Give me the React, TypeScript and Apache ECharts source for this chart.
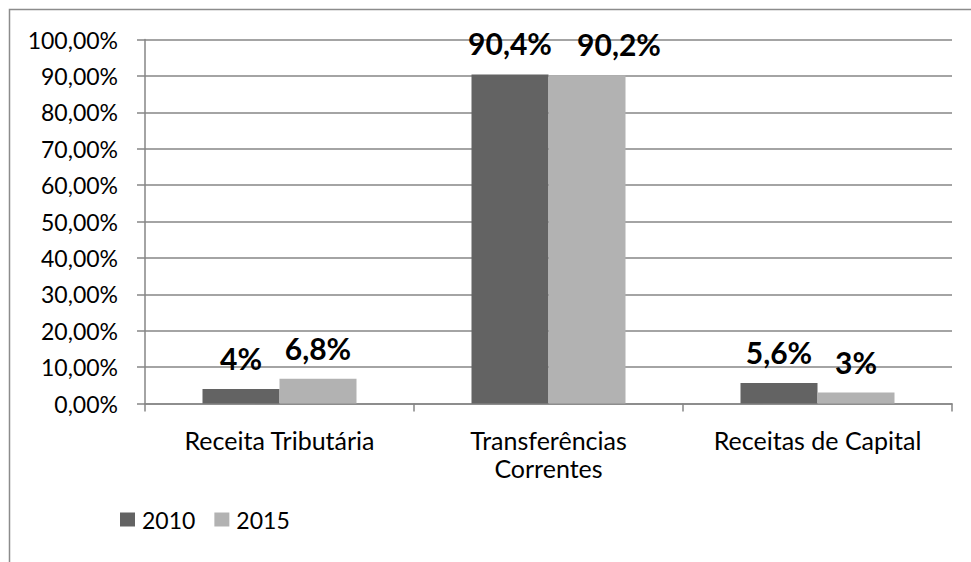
import React, { useEffect, useRef } from "react";
import * as echarts from "echarts";

const categories = ["Receita Tributária", "Transferências\nCorrentes", "Receitas de Capital"];
const seriesNames = ["2010", "2015"];
const values2010 = [4, 90.4, 5.6];
const values2015 = [6.8, 90.2, 3];
const seriesColors = ["#636363", "#b2b2b2"];
const yMin = 0;
const yMax = 100;
const yInterval = 10;

const FONT = "Lato, 'Open Sans', sans-serif";

export default function App() {
  const ref = useRef<HTMLDivElement>(null);
  useEffect(() => {
    if (!ref.current) return;
    const chart = echarts.init(ref.current, undefined, { renderer: "svg" });
    const fmt = (v: number) => String(v).replace(".", ",") + "%";
    const labelStyle = {
      show: true,
      position: "top",
      distance: 16,
      formatter: (p: any) => fmt(p.value),
      fontFamily: FONT,
      fontWeight: "bold",
      fontSize: 30,
      color: "#000",
    };
    const mkData = (data: number[], shifts: number[]) =>
      data.map((v, i) =>
        shifts[i] ? { value: v, label: { offset: [shifts[i], 0] } } : v
      );
    chart.setOption({
      animation: false,
      backgroundColor: "#fff",
      graphic: [
        {
          type: "rect",
          shape: { x: 9.5, y: 9.5, width: 1000, height: 600 },
          style: { fill: "none", stroke: "#8c8c8c", lineWidth: 1.5 },
          silent: true,
          z: -10,
        },
      ],
      grid: { left: 145, right: 19, top: 39.5, bottom: 158.5, containLabel: false },
      legend: {
        left: 120,
        top: 508,
        padding: 0,
        itemWidth: 15,
        itemHeight: 14,
        itemGap: 19,
        icon: "rect",
        data: seriesNames,
        textStyle: {
          fontFamily: FONT,
          fontSize: 23,
          lineHeight: 22,
          color: "#000",
          padding: [0, 0, 0, 2],
        },
      },
      xAxis: {
        type: "category",
        data: categories,
        axisLine: { show: true, lineStyle: { color: "#868686", width: 1.5 } },
        axisTick: { show: true, alignWithLabel: false, length: 8, lineStyle: { color: "#868686", width: 1.5 } },
        axisLabel: {
          fontFamily: FONT,
          fontSize: 25,
          lineHeight: 28,
          color: "#000",
          margin: 22,
          interval: 0,
        },
        splitLine: { show: false },
      },
      yAxis: {
        type: "value",
        min: yMin,
        max: yMax,
        interval: yInterval,
        axisLine: { show: true, lineStyle: { color: "#868686", width: 1.5 } },
        axisTick: { show: true, length: 8, lineStyle: { color: "#868686", width: 1.5 } },
        axisLabel: {
          fontFamily: FONT,
          fontSize: 23,
          color: "#000",
          margin: 27,
          formatter: (v: number) => v.toFixed(2).replace(".", ",") + "%",
        },
        splitLine: { show: true, lineStyle: { color: "#868686", width: 1.5 } },
      },
      series: [
        {
          name: seriesNames[0],
          type: "bar",
          data: mkData(values2010, [0, 0, 0]),
          barWidth: 77,
          barGap: "0%",
          itemStyle: { color: seriesColors[0] },
          label: labelStyle,
        },
        {
          name: seriesNames[1],
          type: "bar",
          data: mkData(values2015, [0, 32, 0]),
          barWidth: 77,
          barGap: "0%",
          itemStyle: { color: seriesColors[1] },
          label: labelStyle,
        },
      ],
    });
    return () => chart.dispose();
  }, []);
  return (
    <div
      ref={ref}
      style={{ position: "fixed", left: 0, top: 0, width: 971, height: 562, background: "#fff" }}
    />
  );
}
